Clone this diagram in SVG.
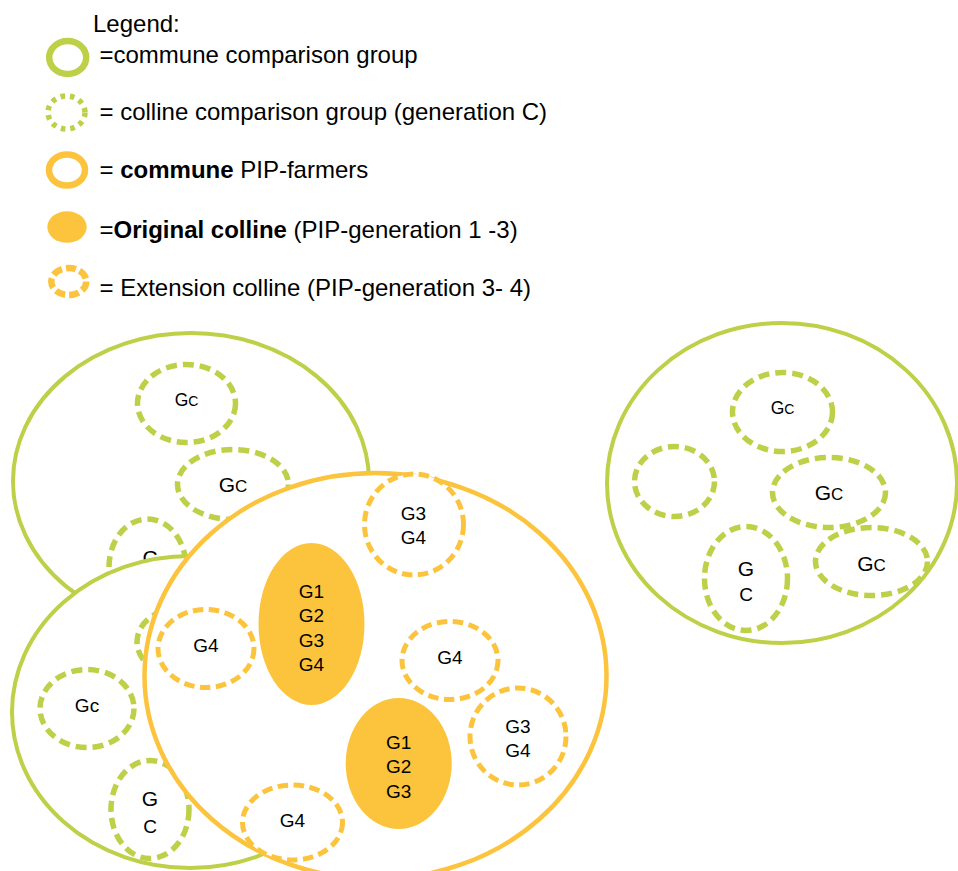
<svg xmlns="http://www.w3.org/2000/svg" width="958" height="871" viewBox="0 0 958 871">
  <style>
    text { font-family: "Liberation Sans", Arial, sans-serif; fill: #000; }
    .legend { font-size: 24px; }
    .b { font-weight: bold; }
    .lbl { font-size: 19px; text-anchor: middle; }
    .sm { font-size: 17.5px; }
    .sm-c { font-size: 14px; }
    .big { font-size: 21px; }
    .big-c { font-size: 17px; }
    .commune { fill: #fff; stroke: #BED047; stroke-width: 4; }
    .colline { fill: #fff; stroke: #BED047; stroke-width: 5.5; stroke-dasharray: 11 6; }
    .pip { fill: #fff; stroke: #FCC43D; stroke-width: 4.5; }
    .orig { fill: #FCC43D; stroke: none; }
    .ext { fill: #fff; stroke: #FCC43D; stroke-width: 5; stroke-dasharray: 10.5 5.5; }
  </style>

  <!-- Legend -->
  <g id="legend">
    <text class="legend" x="93" y="32">Legend:</text>
    <ellipse cx="67.7" cy="57.5" rx="18.5" ry="16.5" fill="none" stroke="#BED047" stroke-width="6.5"/>
    <text class="legend" x="99.5" y="63">=commune comparison group</text>
    <ellipse cx="66.5" cy="112.5" rx="18.5" ry="16.5" fill="none" stroke="#BED047" stroke-width="5.5" stroke-dasharray="4.5 5"/>
    <text class="legend" x="99.5" y="120">= colline comparison group (generation C)</text>
    <ellipse cx="67" cy="170" rx="18" ry="15.5" fill="none" stroke="#FCC43D" stroke-width="6.5"/>
    <text class="legend" x="99.5" y="177.5">= <tspan class="b">commune</tspan> PIP-farmers</text>
    <ellipse cx="67" cy="227" rx="19.7" ry="15.8" fill="#FCC43D"/>
    <text class="legend" x="99.5" y="237.5">=<tspan class="b">Original colline</tspan> (PIP-generation 1 -3)</text>
    <ellipse cx="68.8" cy="281.5" rx="17.5" ry="13.5" fill="none" stroke="#FCC43D" stroke-width="6.5" stroke-dasharray="10 4"/>
    <text class="legend" x="99.5" y="296">= Extension colline (PIP-generation 3- 4)</text>
  </g>

  <!-- Right commune comparison group -->
  <g id="commune-right">
    <ellipse class="commune" cx="782" cy="483" rx="175" ry="160"/>
    <g id="cr-gc-top">
      <ellipse class="colline" cx="782.5" cy="412" rx="50" ry="39.5"/>
      <text class="lbl sm" x="782.5" y="414">G<tspan class="sm-c">C</tspan></text>
    </g>
    <g id="cr-empty">
      <ellipse class="colline" cx="674.5" cy="481.5" rx="40" ry="35"/>
    </g>
    <g id="cr-gc-mid">
      <ellipse class="colline" cx="829" cy="492.5" rx="56.5" ry="35"/>
      <text class="lbl big" x="829" y="500">G<tspan class="big-c">C</tspan></text>
    </g>
    <g id="cr-gc-right">
      <ellipse class="colline" cx="871.5" cy="561.5" rx="56" ry="34"/>
      <text class="lbl big" x="871.5" y="571">G<tspan class="big-c">C</tspan></text>
    </g>
    <g id="cr-gc-stack">
      <ellipse class="colline" cx="746" cy="578.5" rx="41.5" ry="52"/>
      <text class="lbl big" x="746" y="575.5">G</text>
      <text class="lbl" x="746" y="601">C</text>
    </g>
  </g>

  <!-- Upper-left commune comparison group -->
  <g id="commune-upper">
    <ellipse class="commune" cx="191" cy="481" rx="178" ry="148"/>
    <g id="cu-gc-top">
      <ellipse class="colline" cx="186.5" cy="403.5" rx="49" ry="39"/>
      <text class="lbl sm" x="186.5" y="405.5">G<tspan class="sm-c">C</tspan></text>
    </g>
    <g id="cu-gc-mid">
      <ellipse class="colline" cx="233" cy="484.5" rx="55.5" ry="35"/>
      <text class="lbl big" x="233" y="491.5">G<tspan class="big-c">C</tspan></text>
    </g>
    <g id="cu-gc-low">
      <ellipse class="colline" cx="147.5" cy="567" rx="38.5" ry="48"/>
      <text class="lbl big" x="150" y="565">C</text>
    </g>
  </g>

  <!-- Lower-left commune comparison group -->
  <g id="commune-lower">
    <ellipse class="commune" cx="190" cy="712" rx="178" ry="156"/>
    <g id="cl-hidden">
      <ellipse class="colline" cx="180" cy="642" rx="43" ry="34"/>
    </g>
    <g id="cl-gc">
      <ellipse class="colline" cx="87" cy="708.5" rx="47" ry="39"/>
      <text class="lbl" x="87" y="712">Gc</text>
    </g>
    <g id="cl-gc-stack">
      <ellipse class="colline" cx="150" cy="809.5" rx="39" ry="49"/>
      <text class="lbl big" x="150" y="806">G</text>
      <text class="lbl" x="150" y="832.5">C</text>
    </g>
  </g>

  <!-- Commune PIP-farmers -->
  <g id="commune-pip">
    <ellipse class="pip" cx="375.5" cy="676" rx="231" ry="203"/>
    <g id="orig-1">
      <ellipse class="orig" cx="311.5" cy="624" rx="53" ry="81"/>
      <text class="lbl" x="311.5" y="597.5">G1</text>
      <text class="lbl" x="311.5" y="622">G2</text>
      <text class="lbl" x="311.5" y="646.5">G3</text>
      <text class="lbl" x="311.5" y="671">G4</text>
    </g>
    <g id="orig-2">
      <ellipse class="orig" cx="398.7" cy="763.5" rx="53" ry="65.5"/>
      <text class="lbl" x="398.7" y="748.5">G1</text>
      <text class="lbl" x="398.7" y="773">G2</text>
      <text class="lbl" x="398.7" y="797.5">G3</text>
    </g>
    <g id="ext-top">
      <ellipse class="ext" cx="414" cy="524.5" rx="49.5" ry="50.5"/>
      <text class="lbl" x="413.5" y="519.5">G3</text>
      <text class="lbl" x="413.5" y="543.5">G4</text>
    </g>
    <g id="ext-left">
      <ellipse class="ext" cx="206" cy="648.5" rx="48" ry="39"/>
      <text class="lbl" x="206" y="652">G4</text>
    </g>
    <g id="ext-mid">
      <ellipse class="ext" cx="450" cy="660.5" rx="48" ry="39"/>
      <text class="lbl" x="450" y="663.5">G4</text>
    </g>
    <g id="ext-right">
      <ellipse class="ext" cx="518" cy="736.5" rx="48" ry="48.5"/>
      <text class="lbl" x="518" y="732.5">G3</text>
      <text class="lbl" x="518" y="757">G4</text>
    </g>
    <g id="ext-bottom">
      <ellipse class="ext" cx="292.5" cy="822.5" rx="50" ry="37.5"/>
      <text class="lbl" x="292.5" y="827">G4</text>
    </g>
  </g>

  <!-- No connectors in this diagram -->
  <g id="connectors"/>
</svg>
